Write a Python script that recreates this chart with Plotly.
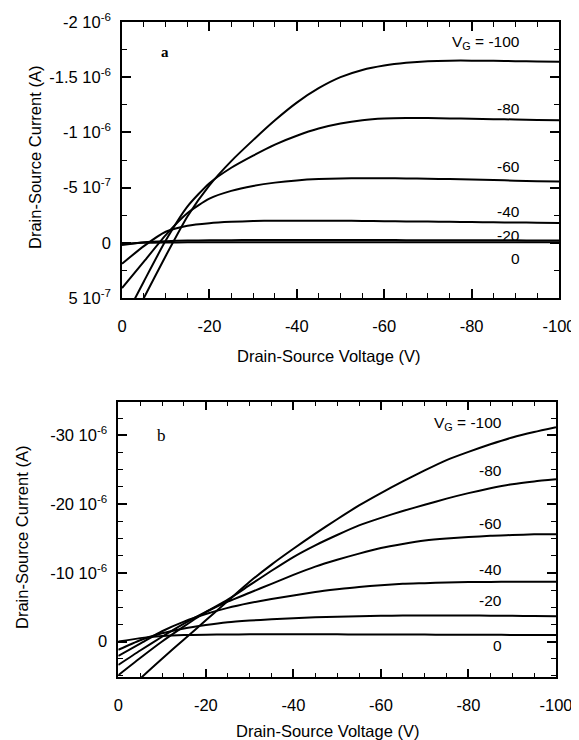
import plotly.graph_objects as go

# ---------------- data ----------------
# Drain-source voltage (V)
vds = [0, -5, -10, -15, -20, -25, -30, -35, -40, -45, -50,
       -55, -60, -65, -70, -75, -80, -85, -90, -95, -100]

gate_voltages = ["0", "-20", "-40", "-60", "-80", "-100"]

# Panel a: drain-source current in units of 1e-6 A
ids_a_vg0 = [0.01, 0.0, -0.003, -0.004, -0.005, -0.005, -0.005, -0.005, -0.005, -0.005, -0.005,
             -0.005, -0.005, -0.005, -0.005, -0.005, -0.005, -0.005, -0.005, -0.005, -0.005]
ids_a_vg20 = [0.02, -0.005, -0.015, -0.02, -0.022, -0.024, -0.025, -0.025, -0.025, -0.025, -0.025,
              -0.025, -0.025, -0.024, -0.024, -0.023, -0.023, -0.022, -0.022, -0.021, -0.02]
ids_a_vg40 = [0.19, 0.03, -0.1, -0.155, -0.178, -0.19, -0.197, -0.2, -0.2, -0.2, -0.2,
              -0.198, -0.196, -0.194, -0.192, -0.19, -0.188, -0.186, -0.184, -0.182, -0.18]
ids_a_vg60 = [0.41, 0.17, -0.07, -0.27, -0.40, -0.47, -0.515, -0.545, -0.565, -0.577, -0.583,
              -0.585, -0.585, -0.583, -0.58, -0.577, -0.573, -0.568, -0.563, -0.558, -0.555]
ids_a_vg80 = [0.73, 0.35, -0.02, -0.33, -0.54, -0.68, -0.79, -0.89, -0.97, -1.035, -1.08,
              -1.11, -1.125, -1.13, -1.13, -1.127, -1.123, -1.12, -1.117, -1.113, -1.11]
ids_a_vg100 = [0.88, 0.5, 0.12, -0.24, -0.52, -0.74, -0.93, -1.11, -1.27, -1.4, -1.5,
               -1.565, -1.605, -1.63, -1.645, -1.65, -1.65, -1.648, -1.645, -1.642, -1.64]

# Panel b: drain-source current in units of 1e-6 A
ids_b_vg0 = [0.0, -0.5, -0.8, -0.95, -1.0, -1.03, -1.05, -1.05, -1.05, -1.05, -1.05,
             -1.04, -1.03, -1.02, -1.01, -1.0, -1.0, -0.98, -0.97, -0.96, -0.95]
ids_b_vg20 = [1.2, -0.2, -1.2, -1.9, -2.4, -2.8, -3.05, -3.25, -3.4, -3.52, -3.6,
              -3.68, -3.75, -3.78, -3.8, -3.8, -3.79, -3.77, -3.75, -3.72, -3.7]
ids_b_vg40 = [2.1, 0.3, -1.5, -2.9, -4.0, -4.9, -5.6, -6.2, -6.7, -7.2, -7.6,
              -7.95, -8.2, -8.4, -8.5, -8.6, -8.65, -8.68, -8.7, -8.7, -8.7]
ids_b_vg60 = [3.4, 1.3, -0.7, -2.6, -4.3, -5.8, -7.1, -8.4, -9.7, -10.9, -11.9,
              -12.8, -13.6, -14.2, -14.7, -15.0, -15.2, -15.4, -15.5, -15.6, -15.6]
ids_b_vg80 = [4.9, 2.4, 0.0, -2.2, -4.3, -6.1, -8.2, -10.3, -12.3, -14.0, -15.5,
              -16.9, -18.0, -19.0, -19.9, -20.8, -21.6, -22.3, -22.9, -23.3, -23.6]
ids_b_vg100 = [8.5, 5.4, 2.5, -0.3, -3.1, -5.9, -8.7, -11.2, -13.5, -15.7, -17.8,
               -19.8, -21.6, -23.3, -24.9, -26.4, -27.6, -28.7, -29.7, -30.5, -31.2]

series_a = [ids_a_vg0, ids_a_vg20, ids_a_vg40, ids_a_vg60, ids_a_vg80, ids_a_vg100]
series_b = [ids_b_vg0, ids_b_vg20, ids_b_vg40, ids_b_vg60, ids_b_vg80, ids_b_vg100]

x_tick_vals = [0, -20, -40, -60, -80, -100]
x_tick_text = ["0", "-20", "-40", "-60", "-80", "-100"]

ya_tick_vals = [-2e-6, -1.5e-6, -1e-6, -5e-7, 0, 5e-7]
ya_tick_text = ["-2 10<sup>-6</sup>", "-1.5 10<sup>-6</sup>", "-1 10<sup>-6</sup>",
                "-5 10<sup>-7</sup>", "0", "5 10<sup>-7</sup>"]
yb_tick_vals = [-30e-6, -20e-6, -10e-6, 0]
yb_tick_text = ["-30 10<sup>-6</sup>", "-20 10<sup>-6</sup>", "-10 10<sup>-6</sup>", "0"]

# label placement (data coords) for curve labels
label_a_y = [0.14e-6, -0.07e-6, -0.28e-6, -0.69e-6, -1.22e-6, -1.81e-6]
label_b_y = [0.5e-6, -6.0e-6, -10.5e-6, -17.2e-6, -24.9e-6, -31.8e-6]

SCALE = 1e-6
FONT = "Liberation Sans, Arial, sans-serif"
# the page body has an 8px margin; size the figure so it fills the window exactly
BODY = 8
W, H = 579 - BODY, 740 - BODY

fig = go.Figure()

line_style = dict(color="black", width=2, shape="spline", smoothing=0.6)
for s in series_a:
    fig.add_trace(go.Scatter(x=vds, y=[v * SCALE for v in s], mode="lines",
                             line=line_style, xaxis="x", yaxis="y",
                             showlegend=False, hoverinfo="skip"))
for s in series_b:
    fig.add_trace(go.Scatter(x=vds, y=[v * SCALE for v in s], mode="lines",
                             line=line_style, xaxis="x2", yaxis="y2",
                             showlegend=False, hoverinfo="skip"))


def px_x(p):
    """screen pixel -> paper x"""
    return (p - BODY) / W


def px_y(p):
    """screen pixel -> paper y"""
    return 1 - (p - BODY) / H


common_axis = dict(showline=True, linecolor="black", linewidth=1.5, mirror="allticks",
                   ticks="inside", ticklen=9, tickwidth=1.5, tickcolor="black",
                   showgrid=False, zeroline=False, automargin=False,
                   tickfont=dict(family=FONT, size=16.5, color="black"))

fig.update_layout(
    template="none",
    width=W, height=H,
    margin=dict(l=0, r=0, t=0, b=0, pad=0),
    paper_bgcolor="white", plot_bgcolor="white",
    font=dict(family=FONT, size=16.5, color="black"),
    showlegend=False,
    xaxis=dict(domain=[px_x(122), px_x(559)], range=[0, -100], anchor="y",
               tickmode="array", tickvals=x_tick_vals, ticktext=x_tick_text,
               minor=dict(ticks="inside", ticklen=5, tickwidth=1.2, tickcolor="black", dtick=5, tick0=0),
               ticklabelstandoff=12, **common_axis),
    yaxis=dict(domain=[px_y(298), px_y(22)], range=[5e-7, -2e-6], anchor="x",
               tickmode="array", tickvals=ya_tick_vals, ticktext=ya_tick_text,
               minor=dict(ticks="inside", ticklen=5, tickwidth=1.2, tickcolor="black", dtick=2.5e-7, tick0=0),
               ticklabelstandoff=6, **common_axis),
    xaxis2=dict(domain=[px_x(118.3), px_x(556)], range=[0, -100], anchor="y2",
                tickmode="array", tickvals=x_tick_vals, ticktext=x_tick_text,
                minor=dict(ticks="inside", ticklen=5, tickwidth=1.2, tickcolor="black", dtick=5, tick0=0),
                ticklabelstandoff=12, **common_axis),
    yaxis2=dict(domain=[px_y(677.3), px_y(401.7)], range=[5.2e-6, -34.9e-6], anchor="x2",
                tickmode="array", tickvals=yb_tick_vals, ticktext=yb_tick_text,
                minor=dict(ticks="inside", ticklen=5, tickwidth=1.2, tickcolor="black", dtick=2.5e-6, tick0=0),
                ticklabelstandoff=6, **common_axis),
)

annotations = []
# curve labels
for i, g in enumerate(gate_voltages):
    txt = ("V<sub>G</sub> = " + g) if i == len(gate_voltages) - 1 else g
    annotations.append(dict(x=-91.6, y=label_a_y[i], xref="x", yref="y", text=txt,
                            showarrow=False, xanchor="right", yanchor="middle",
                            font=dict(family=FONT, size=15.5, color="black")))
    annotations.append(dict(x=-88.1, y=label_b_y[i], xref="x2", yref="y2", text=txt,
                            showarrow=False, xanchor="right", yanchor="middle",
                            font=dict(family=FONT, size=15.5, color="black")))
# panel letters
annotations.append(dict(x=px_x(165), y=px_y(52), xref="paper", yref="paper", text="<b>a</b>",
                        showarrow=False, xanchor="center", yanchor="middle",
                        font=dict(family="Liberation Serif, Times New Roman, serif", size=15, color="black")))
annotations.append(dict(x=px_x(161), y=px_y(435), xref="paper", yref="paper", text="b",
                        showarrow=False, xanchor="center", yanchor="middle",
                        font=dict(family="Liberation Serif, Times New Roman, serif", size=17, color="black")))
# axis titles
for (xp, yp) in [(35, 158), (22, 538)]:
    annotations.append(dict(x=px_x(xp), y=px_y(yp), xref="paper", yref="paper",
                            text="Drain-Source Current (A)", textangle=-90, showarrow=False,
                            xanchor="center", yanchor="middle",
                            font=dict(family=FONT, size=16.5, color="black")))
for (xp, yp) in [(328, 356), (327, 731)]:
    annotations.append(dict(x=px_x(xp), y=px_y(yp), xref="paper", yref="paper",
                            text="Drain-Source Voltage (V)", showarrow=False,
                            xanchor="center", yanchor="middle",
                            font=dict(family=FONT, size=16.5, color="black")))
fig.update_layout(annotations=annotations)

fig.write_html("out.html")
